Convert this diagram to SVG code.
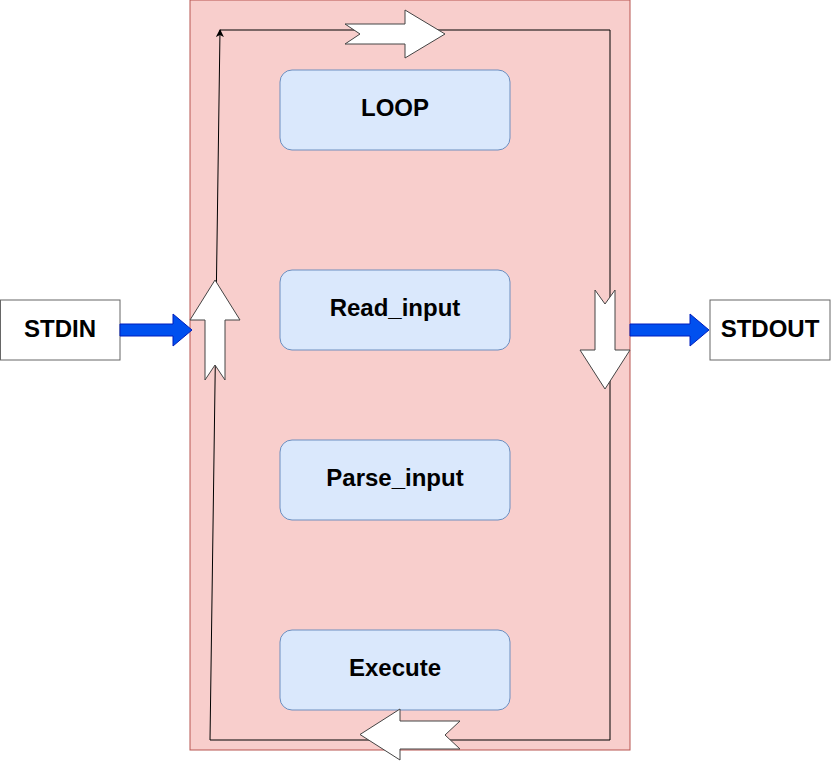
<svg xmlns="http://www.w3.org/2000/svg" width="831" height="761" viewBox="0 0 831 761">
<style>
.lbl{font-family:"Liberation Sans",Arial,sans-serif;font-weight:bold;font-size:24px;fill:#000;text-anchor:middle}
.step{fill:#dae8fc;stroke:#6c8ebf;stroke-width:1}
.io{fill:#fff;stroke:#666;stroke-width:1}
.flex{fill:#fff;stroke:#444;stroke-width:1;stroke-linejoin:miter}
.blue{fill:#0050ef;stroke:#001dbc;stroke-width:1}
.line{fill:none;stroke:#000;stroke-width:1}
</style>
<defs>
<marker id="ah" markerWidth="8" markerHeight="8" refX="7" refY="4" orient="auto" markerUnits="userSpaceOnUse">
<path d="M0,0 L8,4 L0,8 L2,4 Z" fill="#000"/>
</marker>
</defs>
<rect width="831" height="761" fill="#fff"/>
<g id="container">
<rect x="190" y="0" width="440" height="750" fill="#f8cecc" stroke="#b85450" stroke-width="1"/>
</g>
<g id="stdin">
<rect class="io" x="0.5" y="300" width="119.5" height="60"/>
<text class="lbl" x="60" y="337">STDIN</text>
</g>
<g id="stdout">
<rect class="io" x="710" y="300" width="120" height="60"/>
<text class="lbl" x="770" y="337">STDOUT</text>
</g>
<g id="loop">
<rect class="step" x="280" y="70" width="230" height="80" rx="12"/>
<text class="lbl" x="395" y="116">LOOP</text>
</g>
<g id="read_input">
<rect class="step" x="280" y="270" width="230" height="80" rx="12"/>
<text class="lbl" x="395" y="316">Read_input</text>
</g>
<g id="parse_input">
<rect class="step" x="280" y="440" width="230" height="80" rx="12"/>
<text class="lbl" x="395" y="486">Parse_input</text>
</g>
<g id="execute">
<rect class="step" x="280" y="630" width="230" height="80" rx="12"/>
<text class="lbl" x="395" y="676">Execute</text>
</g>
<g id="connectors">
<polyline class="line" points="610,30 610,740 210,740"/>
<line class="line" x1="210" y1="740" x2="220" y2="30" marker-end="url(#ah)"/>
<line class="line" x1="220" y1="30" x2="610" y2="30"/>
<polygon class="flex" points="345,24 405,24 405,10 445,34 405,58 405,44 345,44 360,34"/>
<polygon class="flex" points="595,290 605,304 615,290 615,350 630,350 605,389 580,350 595,350"/>
<polygon class="flex" points="460,721 400,721 400,709 360,734.5 400,760 400,749 460,749 445,735"/>
<polygon class="flex" points="215,280 240,320 225,320 225,380 215,365 205,380 205,320 190,320"/>
<polygon class="blue" points="120,324 173,324 173,314 192,330 173,346 173,336 120,336"/>
<polygon class="blue" points="630,324 690,324 690,314 709,330 690,346 690,336 630,336"/>
</g>
</svg>
